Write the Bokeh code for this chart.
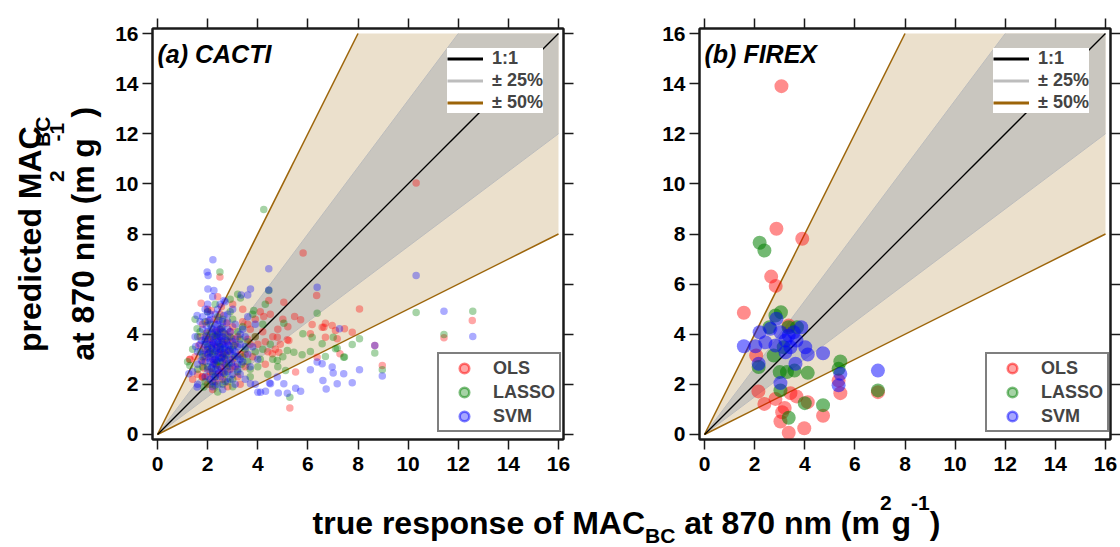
import numpy as np
from bokeh.plotting import figure
from bokeh.models import Legend, LegendItem, LinearAxis, FixedTicker, Range1d, Label, CustomJSTickFormatter
from bokeh.layouts import row, column
from bokeh.embed import file_html
from bokeh.resources import INLINE
from bokeh.core.properties import value

# ---------------- data ----------------
axis_ticks = [0, 2, 4, 6, 8, 10, 12, 14, 16]
axis_tick_labels = ["0", "2", "4", "6", "8", "10", "12", "14", "16"]
axis_limit = 16
band25 = (0.75, 1 / 0.75)
band50 = (0.5, 2.0)
series_names = ["OLS", "LASSO", "SVM"]
ref_labels = ["1:1", "± 25%", "± 50%"]
panel_titles = ["(a) CACTI", "(b) FIREX"]

cacti_ols = [
    (2.0, 4.5), (2.3, 4.1), (2.6, 3.7), (1.9, 3.4), (2.2, 3.0), (2.5, 2.7), (2.8, 3.3), (3.1, 3.6), (2.4, 3.5),
    (2.1, 2.5), (1.8, 2.9), (2.7, 4.0), (3.0, 4.3), (3.3, 3.2), (2.9, 2.6), (2.3, 2.1), (1.7, 3.9), (2.0, 5.0),
    (2.5, 4.8), (3.4, 4.5), (3.6, 3.8), (3.8, 3.1), (3.2, 2.3), (2.6, 2.2), (2.0, 2.0), (1.6, 2.4), (1.5, 3.1),
    (3.5, 2.7), (4.0, 3.6), (4.2, 4.1), (3.9, 4.6), (4.4, 3.3), (4.6, 3.9), (3.0, 5.2), (2.4, 5.5), (1.3, 3.0),
    (1.8, 2.3), (2.8, 1.9), (3.3, 2.0), (4.5, 4.8), (4.8, 4.2), (4.9, 3.6), (5.2, 4.3), (5.0, 4.6), (4.3, 2.8),
    (2.15, 3.85), (2.45, 3.25), (2.65, 3.05), (2.95, 3.85), (1.95, 4.05), (3.7, 4.2), (4.1, 4.9), (3.4, 5.0),
    (2.2, 1.8), (1.4, 2.2),
    (2.2, 3.6), (2.4, 3.9), (2.6, 3.2), (2.3, 2.8), (2.1, 3.3), (2.8, 3.7), (2.5, 4.2), (2.0, 3.8), (1.9, 3.1),
    (2.7, 2.8), (3.0, 3.0), (2.9, 4.1), (3.2, 3.9), (2.3, 4.6), (1.8, 4.4), (2.6, 2.5), (2.4, 2.4), (2.0, 2.3),
    (3.5, 3.2), (3.7, 3.6), (2.15, 4.95), (2.75, 4.45), (1.65, 3.55), (3.1, 2.7), (3.9, 3.9), (4.3, 3.7),
    (4.7, 3.4), (3.6, 4.4), (2.55, 5.1), (1.85, 2.65),
    (5.81, 7.24), (2.49, 6.28), (1.74, 5.24), (4.44, 5.35), (5.04, 5.28), (8.06, 5.01), (4.24, 4.71), (5.47, 4.71),
    (5.71, 4.58), (6.17, 4.39), (6.64, 4.28), (6.97, 4.35), (7.1, 4.15), (7.77, 4.08), (6.7, 3.88), (5.18, 3.78),
    (4.78, 3.88), (4.84, 3.28), (7.28, 3.22), (6.37, 3.08), (5.51, 2.49), (5.28, 1.06), (8.97, 2.75), (11.43, 3.86),
    (12.56, 4.55), (6.35, 5.55), (10.32, 10.04), (8.67, 3.55), (6.57, 4.28), (6.7, 4.44), (7.46, 4.22), (6.1, 4.02),
    (7.17, 3.82), (5.24, 3.75), (4.58, 3.22), (1.28, 2.99), (1.78, 2.29),
]
cacti_lasso = [
    (2.1, 4.4), (2.4, 4.0), (1.9, 3.7), (2.6, 3.4), (2.2, 3.2), (2.9, 3.9), (2.5, 2.9), (2.0, 2.7), (1.8, 3.1),
    (2.7, 2.4), (3.1, 3.1), (3.3, 3.8), (2.3, 2.3), (1.7, 4.1), (2.0, 4.9), (2.6, 4.6), (3.0, 4.6), (3.5, 3.4),
    (3.6, 2.9), (3.2, 2.5), (2.8, 2.1), (2.1, 2.0), (1.6, 2.6), (1.4, 3.4), (1.5, 4.6), (2.3, 5.2), (2.9, 5.4),
    (3.4, 4.3), (3.9, 3.9), (4.2, 3.4), (4.0, 2.7), (3.7, 2.3), (3.0, 1.9), (2.4, 1.7), (1.9, 2.1), (4.4, 2.4),
    (4.6, 3.0), (4.8, 2.7), (5.0, 3.1), (3.8, 4.8), (4.2, 4.4), (2.15, 3.45), (2.45, 3.65), (2.75, 3.15),
    (2.35, 2.75), (1.95, 3.95), (2.55, 4.25), (3.05, 3.55), (3.35, 2.8), (2.85, 2.85), (4.3, 5.2), (3.2, 5.6),
    (1.2, 2.9),
    (2.2, 3.9), (2.5, 3.5), (2.3, 3.3), (2.7, 3.8), (2.0, 3.5), (2.4, 2.9), (2.8, 2.7), (2.6, 3.1), (2.1, 4.1),
    (2.9, 3.4), (1.9, 4.5), (3.2, 4.1), (2.4, 4.7), (1.8, 2.7), (2.2, 2.5), (2.6, 2.0), (3.4, 3.1), (3.0, 2.2),
    (2.05, 3.25), (2.35, 3.95), (2.65, 4.05), (1.7, 3.3), (3.6, 3.7), (3.9, 3.3), (4.1, 3.0), (4.5, 3.6),
    (3.7, 2.6), (2.9, 4.9), (1.6, 3.9), (2.3, 1.95),
    (4.24, 8.98), (2.49, 6.48), (3.31, 5.45), (6.37, 4.84), (10.32, 4.87), (12.58, 4.92), (11.43, 3.99),
    (8.06, 3.82), (7.77, 3.59), (8.67, 3.25), (7.01, 3.88), (7.17, 3.44), (6.57, 3.62), (5.8, 4.02), (6.17, 3.88),
    (7.43, 3.08), (5.77, 3.18), (5.44, 3.28), (5.18, 3.35), (6.7, 3.11), (4.78, 2.95), (8.97, 2.58), (5.28, 1.49),
    (5.04, 4.44), (4.44, 5.75), (3.84, 4.95), (7.1, 3.42), (6.1, 3.31), (7.46, 3.09), (5.11, 2.55), (1.58, 4.22),
    (1.29, 2.75), (1.85, 1.89),
]
cacti_svm = [
    (2.0, 4.9), (2.1, 4.6), (2.3, 4.4), (2.5, 4.2), (2.2, 4.0), (1.9, 3.9), (2.0, 3.6), (2.4, 3.7), (2.6, 3.9),
    (2.8, 3.6), (2.1, 3.3), (2.3, 3.1), (2.5, 3.4), (2.7, 3.2), (2.9, 3.0), (1.8, 3.2), (1.9, 2.9), (2.2, 2.8),
    (2.4, 2.6), (2.6, 2.9), (3.0, 3.4), (3.1, 3.8), (3.2, 3.1), (2.8, 2.5), (2.5, 2.3), (2.2, 2.4), (2.0, 2.6),
    (1.7, 3.6), (1.8, 4.2), (2.3, 4.8), (2.6, 4.5), (2.9, 4.1), (3.3, 3.6), (3.4, 2.9), (3.0, 2.7), (2.7, 2.1),
    (2.4, 2.0), (2.1, 2.2), (1.6, 2.8), (1.7, 4.5), (2.0, 5.2), (2.4, 5.0), (2.8, 4.8), (3.1, 4.4), (3.5, 3.9),
    (3.6, 3.2), (3.3, 2.4), (2.9, 2.2), (2.2, 1.9), (1.9, 2.3), (2.15, 3.55), (2.35, 3.35), (2.45, 3.85),
    (2.05, 3.05), (2.55, 3.05), (2.25, 3.65), (2.65, 3.45), (2.75, 3.75), (2.35, 2.95), (2.15, 4.25), (2.45, 4.55),
    (1.95, 4.35), (3.05, 3.15), (2.85, 3.35), (2.55, 2.65), (2.3, 2.3), (3.2, 2.6), (3.7, 2.7), (3.8, 3.5),
    (3.4, 4.2), (1.5, 3.9), (1.6, 3.3), (2.7, 5.3), (3.0, 5.0), (2.2, 5.5), (2.6, 1.8), (3.1, 2.0), (3.5, 2.2),
    (3.9, 2.0), (1.6, 2.0), (1.4, 2.5), (3.9, 4.4), (4.0, 3.0), (3.6, 4.7),
    (2.1, 3.8), (2.3, 3.6), (2.5, 3.9), (2.2, 3.4), (2.4, 3.2), (2.6, 3.6), (2.0, 3.4), (2.2, 3.7), (2.4, 4.1),
    (2.6, 4.1), (2.8, 3.9), (2.7, 3.5), (2.5, 3.3), (2.3, 3.0), (2.1, 2.9), (2.0, 3.2), (1.9, 3.6), (2.3, 3.9),
    (2.5, 3.6), (2.7, 3.0), (2.9, 3.3), (3.0, 3.7), (2.8, 4.2), (2.6, 4.3), (2.4, 4.4), (2.2, 4.2), (2.0, 4.1),
    (1.9, 3.8), (2.1, 3.1), (2.35, 3.45), (2.55, 3.75), (2.45, 3.05), (2.65, 3.25), (2.25, 2.85), (2.75, 2.75),
    (2.85, 3.55), (2.15, 2.65), (2.95, 2.85), (3.1, 3.3), (3.2, 3.5), (2.05, 4.55), (2.35, 4.15), (2.65, 4.75),
    (1.85, 3.35), (1.75, 2.95), (2.45, 2.45), (2.65, 2.45), (3.0, 2.4), (3.3, 3.0), (3.5, 3.5), (2.3, 2.6),
    (2.1, 4.8), (1.8, 4.7), (2.8, 4.5), (3.3, 4.0), (1.75, 3.75), (2.5, 5.2), (1.9, 5.0), (3.2, 2.8), (2.2, 2.1),
    (2.21, 6.97), (2.02, 6.34), (4.44, 6.61), (4.44, 5.77), (6.37, 5.88), (3.6, 5.57), (10.32, 6.34), (11.43, 4.92),
    (12.58, 3.91), (8.97, 2.33), (8.67, 3.55), (7.26, 4.22), (6.37, 2.89), (6.97, 2.69), (7.01, 2.45), (7.43, 2.42),
    (8.06, 2.58), (7.77, 2.06), (7.17, 2.02), (6.1, 2.58), (6.73, 1.82), (5.71, 1.73), (5.51, 1.85), (5.18, 1.65),
    (4.82, 1.66), (4.31, 1.73), (4.0, 1.69), (5.04, 2.02), (3.71, 2.02), (4.78, 2.29), (6.6, 2.15), (6.57, 2.82),
    (4.51, 2.02), (1.98, 6.48), (2.01, 5.81), (2.25, 5.75), (2.65, 5.35), (3.34, 5.57), (3.71, 5.81), (1.58, 4.75),
    (1.52, 3.51), (1.25, 2.42), (1.58, 1.89), (4.11, 1.69), (4.47, 2.05),
]

firex_ols_x = [3.07, 2.87, 3.9, 2.66, 2.84, 1.57, 3.36, 2.06, 2.15, 2.39, 2.83, 3.2, 3.43, 3.67, 4.12, 3.1,
               3.03, 3.36, 3.98, 4.73, 5.42, 5.35, 6.92]
firex_ols_y = [13.9, 8.21, 7.81, 6.30, 5.93, 4.86, 4.35, 3.15, 1.72, 1.22, 1.42, 1.06, 1.65, 1.52, 1.29, 0.89,
               0.52, 0.07, 0.25, 0.75, 1.65, 2.15, 1.69]
firex_lasso_x = [2.2, 2.39, 3.05, 2.83, 3.35, 3.69, 2.16, 2.76, 3.0, 3.29, 3.59, 4.12, 3.03, 4.0, 4.73, 3.36,
                 5.42, 5.35, 6.92, 2.59, 3.16]
firex_lasso_y = [7.65, 7.34, 4.88, 4.75, 4.28, 4.28, 2.69, 3.15, 2.49, 2.49, 2.55, 2.46, 1.76, 1.25, 1.17, 0.67,
                 2.91, 2.62, 1.76, 4.28, 3.48]
firex_svm_x = [1.57, 2.03, 2.2, 2.63, 2.87, 3.03, 3.36, 3.86, 2.43, 2.83, 3.23, 3.67, 4.02, 4.12, 4.73, 2.16,
               3.63, 3.43, 3.03, 5.42, 5.35, 6.92, 3.23, 3.56]
firex_svm_y = [3.52, 3.52, 4.08, 4.22, 4.62, 4.08, 3.95, 4.28, 3.68, 3.55, 3.28, 3.75, 3.48, 3.19, 3.24, 2.82,
               2.82, 3.48, 2.05, 2.42, 1.96, 2.55, 3.75, 4.08]

# ---------------- style ----------------
FONT = "Liberation Sans"
DARK = "#1a1a1a"
BEIGE = "#ebe0cc"
GRAYBAND = "#c9c6bf"
LIGHTGRAY = "#bdbdbd"
BROWN = "#9c6409"
COLORS = ["#ff0000", "#008000", "#0000ff"]
MID = 0.35  # middle of text line above baseline, in font sizes

W = {' ': 278, '(': 333, ')': 333, '-': 333, ':': 333, '%': 889, '±': 584,
     '0': 556, '1': 556, '2': 556, '3': 556, '4': 556, '5': 556, '6': 556, '7': 556, '8': 556, '9': 556,
     'a': 556, 'b': 611, 'c': 556, 'd': 611, 'e': 556, 'f': 333, 'g': 611, 'i': 278, 'm': 889, 'n': 611,
     'o': 611, 'p': 611, 'r': 389, 's': 556, 't': 333, 'u': 611, 'A': 722, 'B': 722, 'C': 722, 'M': 833}


def tw(s, fs):
    return sum(W.get(c, 556) for c in s) / 1000.0 * fs


def style_axis(ax, labels=True):
    ax.ticker = FixedTicker(ticks=axis_ticks)
    ax.major_tick_in = 0
    ax.major_tick_out = 10
    ax.major_tick_line_width = 1.5
    ax.major_tick_line_color = DARK
    ax.minor_tick_line_color = None
    ax.axis_line_width = 2
    ax.axis_line_color = DARK
    if labels:
        ax.major_label_overrides = {t: s for t, s in zip(axis_ticks, axis_tick_labels)}
        ax.major_label_text_font = FONT
        ax.major_label_text_font_style = "bold"
        ax.major_label_text_font_size = "21px"
        ax.major_label_text_color = "black"
    else:
        ax.formatter = CustomJSTickFormatter(code="return ''")
        ax.major_label_standoff = 0


def make_panel(title, pts, msize, alphas, bl, br, width, top_loc, bot_loc):
    p = figure(width=width, height=490, x_range=Range1d(-0.2, 16.2), y_range=Range1d(-0.2, 16.2),
               output_backend="svg", toolbar_location=None, min_border_left=bl, min_border_right=br,
               min_border_top=28, min_border_bottom=51, background_fill_color="white",
               border_fill_color="white", outline_line_color=DARK, outline_line_width=2)
    p.grid.visible = False
    for ax in p.xaxis:
        style_axis(ax)
        ax.major_label_standoff = 7
    for ax in p.yaxis:
        style_axis(ax)
        ax.major_label_standoff = 4
    for loc in ("above", "right"):
        ax = LinearAxis()
        style_axis(ax, labels=False)
        p.add_layout(ax, loc)

    L = axis_limit
    for (lo, hi), col in ((band50, BEIGE), (band25, GRAYBAND)):
        xs = [0, L / hi, L]
        p.varea(x=xs, y1=[lo * x for x in xs], y2=[min(hi * x, L) for x in xs], fill_color=col)
    for r in band25:
        xs = [0, min(L, L / r)]
        p.line(xs, [r * x for x in xs], line_color=LIGHTGRAY, line_width=1)
    for r in band50:
        xs = [0, min(L, L / r)]
        p.line(xs, [r * x for x in xs], line_color=BROWN, line_width=1.5)
    p.line([0, L], [0, L], line_color="black", line_width=1.3)

    for (xs, ys), col, a in zip(pts, COLORS, alphas):
        p.scatter(xs, ys, size=msize, fill_color=col, fill_alpha=a, line_color=None)

    p.add_layout(Label(x=0, y=14.84, y_offset=MID * 25, text=title, text_font=FONT,
                       text_font_style="bold italic", text_font_size="25px", text_baseline="middle",
                       text_color="black"))

    nanx, nany = [np.nan], [np.nan]
    d1 = p.line(nanx, nany, line_color="black", line_width=3)
    d2 = p.line(nanx, nany, line_color=LIGHTGRAY, line_width=3)
    d3 = p.line(nanx, nany, line_color=BROWN, line_width=3)
    leg1 = Legend(items=[LegendItem(label=lab, renderers=[r]) for lab, r in zip(ref_labels, (d1, d2, d3))],
                  location=top_loc, label_text_font=FONT, label_text_font_style="bold",
                  label_text_font_size="18px", glyph_width=36, glyph_height=21, label_height=21,
                  label_standoff=9, spacing=1, padding=2, margin=0, border_line_color=None,
                  background_fill_color="white", background_fill_alpha=1.0)
    p.add_layout(leg1)

    dums = [p.scatter(nanx, nany, size=14, fill_color=c, fill_alpha=0.35, line_color=c, line_alpha=0.5,
                      line_width=2.5) for c in COLORS]
    leg2 = Legend(items=[LegendItem(label=lab, renderers=[r]) for lab, r in zip(series_names, dums)],
                  location=bot_loc, label_text_font=FONT, label_text_font_style="bold",
                  label_text_font_size="18px", glyph_width=46, glyph_height=24, label_height=24,
                  label_width=64, label_standoff=6, spacing=0, padding=2, margin=0,
                  border_line_color="black", border_line_width=2,
                  background_fill_color="white", background_fill_alpha=1.0)
    p.add_layout(leg2)
    return p


def unzip(lst):
    return [a for a, b in lst], [b for a, b in lst]


pa = make_panel(panel_titles[0], [unzip(cacti_ols), unzip(cacti_lasso), unzip(cacti_svm)], 7.5,
                [0.35, 0.35, 0.33], 47, 20, 478, (295, 326), (285, 7))
pb = make_panel(panel_titles[1], [(firex_ols_x, firex_ols_y), (firex_lasso_x, firex_lasso_y),
                                  (firex_svm_x, firex_svm_y)], 14,
                [0.45, 0.55, 0.5], 116, 10, 537, (294, 326), (286, 7))


def bare(w, h):
    f = figure(width=w, height=h, x_range=Range1d(0, w), y_range=Range1d(0, h), output_backend="svg",
               toolbar_location=None, min_border=0, x_axis_location=None, y_axis_location=None,
               outline_line_color=None, background_fill_color="white", border_fill_color="white")
    f.grid.visible = False
    return f


def place(fig, segs, center, base, vertical):
    """Lay out text pieces (text, font size, baseline shift) along a line, each centred on its slot."""
    total = sum(tw(t, fs) for t, fs, s in segs)
    pos = center - total / 2
    for t, fs, shift in segs:
        core = t.strip(' ')
        lead = len(t) - len(t.lstrip(' '))
        trail = len(t) - len(t.rstrip(' '))
        pos += tw(' ' * lead, fs)
        mid = pos + tw(core, fs) / 2
        up = shift + MID * fs
        kw = dict(text=[core], text_font=value(FONT), text_font_style="bold",
                  text_font_size=value(f"{fs}px"), text_align="center", text_baseline="middle",
                  text_color="black")
        if vertical:
            fig.text(x=[base - up], y=[mid], angle=np.pi / 2, **kw)
        else:
            fig.text(x=[mid], y=[base + up], **kw)
        pos += tw(core, fs) + tw(' ' * trail, fs)


fy = bare(105, 490)
place(fy, [("predicted MAC", 32, 0), ("BC", 21, -8)], 254, 41, True)
place(fy, [("at 870 nm (m", 32, 0), ("2", 21, 30), ("  g", 32, 0), ("-1", 21, 30), (" )", 32, 0)], 254, 94, True)

fx = bare(1120, 57)
place(fx, [("true response of MAC", 32, 0), ("BC", 21, -8), (" at 870 nm (m", 32, 0), ("2", 21, 24),
           ("g", 32, 0), ("-1", 21, 24), (")", 32, 0)], 626, 13, False)

layout = column(row(fy, pa, pb), fx)
open("out.html", "w").write(file_html(layout, INLINE))
